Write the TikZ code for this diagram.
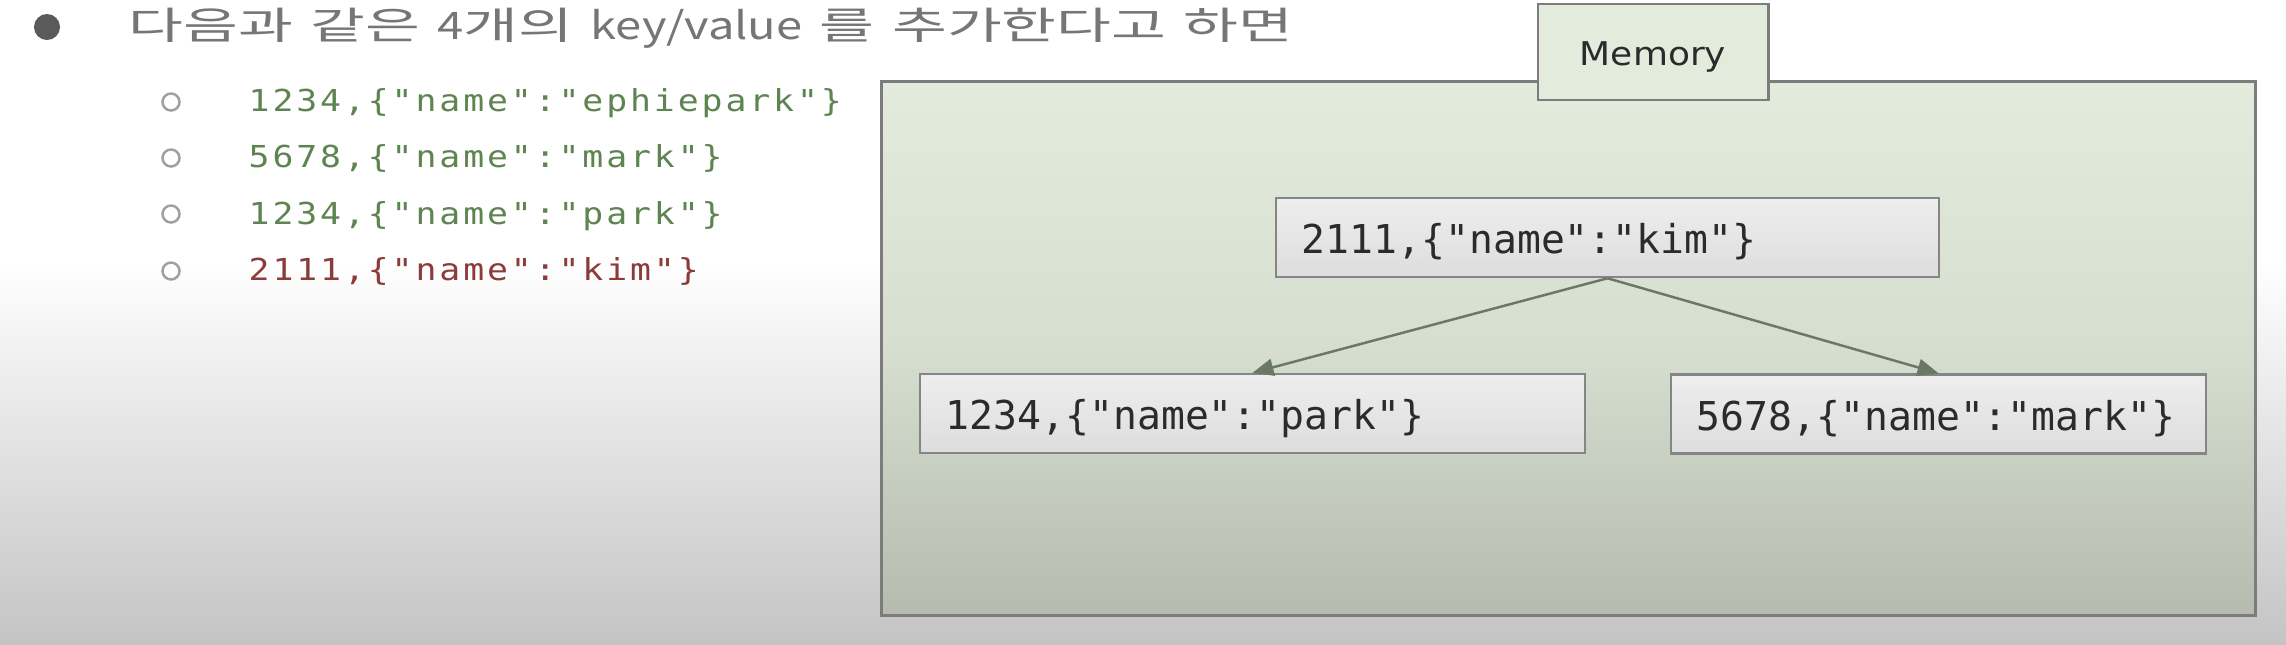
\documentclass[tikz,border=0pt]{standalone}
\usepackage{fontspec}
\usepackage{tikz}
\usepackage{xcolor}
\usetikzlibrary{arrows.meta}

\newfontfamily\kofont[FakeStretch=1.57,WordSpace=1.3]{Noto Sans CJK KR}
\newfontfamily\kolat[FakeStretch=1.24]{Noto Sans CJK KR}
\newfontfamily\listfont[FakeStretch=1.15,LetterSpace=9.6,Ligatures=TeXOff]{DejaVu Sans Mono}
\newfontfamily\boxfont[Ligatures=TeXOff]{DejaVu Sans Mono}
\newfontfamily\tabfont[FakeStretch=1.1]{DejaVu Sans}

\definecolor{pagegray}{HTML}{C4C4C4}
\definecolor{memtop}{HTML}{E3EBDC}
\definecolor{memmid}{HTML}{D6DED0}
\definecolor{membot}{HTML}{B5BCAF}
\definecolor{frame}{HTML}{7C7C7C}
\definecolor{boxline}{HTML}{858585}
\definecolor{boxtop}{HTML}{EEEEEE}
\definecolor{boxbot}{HTML}{DDDDDD}
\definecolor{boxtext}{HTML}{2B2B2B}
\definecolor{linkcol}{HTML}{6A7866}
\definecolor{headgray}{HTML}{767676}
\definecolor{bulletgray}{HTML}{5A5A5A}
\definecolor{hollowgray}{HTML}{A0A0A0}
\definecolor{listgreen}{HTML}{5E8452}
\definecolor{listred}{HTML}{8C3B3B}

\begin{document}
\begin{tikzpicture}[x=0.01cm, y=-0.01cm,
    entry/.style={draw=boxline, line width=0.7pt, top color=boxtop, bottom color=boxbot,
      minimum height=0.79cm, inner xsep=0.26cm, inner ysep=0pt, align=left,
      text height=0.32cm, text depth=0pt,
      font=\boxfont\fontsize{11.3}{13}\selectfont, text=boxtext},
    item/.style={anchor=base west, inner sep=0pt, font=\listfont\fontsize{8.6}{10}\selectfont},
    hollow/.style={circle, draw=hollowgray, line width=0.7pt, inner sep=0pt, minimum size=0.17cm},
    link/.style={draw=linkcol, line width=0.7pt, -{Triangle[length=0.21cm, width=0.17cm]}}]

  % page
  \fill[white] (0,0) rectangle (2286,644);
  \shade[top color=white, bottom color=pagegray] (0,260) rectangle (2286,644);
  \useasboundingbox (0,0) rectangle (2286,644);

  % heading and list
  \node[circle, fill=bulletgray, inner sep=0pt, minimum size=0.26cm] (bullet) at (47,27) {};
  \node[anchor=west, inner sep=0pt, font=\kofont\fontsize{10.8}{13}\selectfont, text=headgray] (heading) at (128,28)
    {다음과 같은 {\kolat 4}개의 {\kolat key/value} 를 추가한다고 하면};

  \node[hollow] (dot1) at (171,102) {};
  \node[hollow] (dot2) at (171,158) {};
  \node[hollow] (dot3) at (171,214) {};
  \node[hollow] (dot4) at (171,271) {};
  \node[item, text=listgreen] (item1) at (248,111) {1234,\{"name":"ephiepark"\}};
  \node[item, text=listgreen] (item2) at (248,167) {5678,\{"name":"mark"\}};
  \node[item, text=listgreen] (item3) at (248,224) {1234,\{"name":"park"\}};
  \node[item, text=listred] (item4) at (248,280) {2111,\{"name":"kim"\}};

  % memory
  \node[draw=frame, line width=0.8pt, top color=memtop, bottom color=membot, middle color=memmid,
    minimum width=13.73cm, minimum height=5.33cm, inner sep=0pt] (memory) at (1568.5,348.5) {};
  \node[draw=frame, line width=0.8pt, fill=memtop, minimum width=2.3cm, minimum height=0.96cm,
    text height=0.27cm, text depth=0pt, font=\tabfont\fontsize{9.3}{11}\selectfont, text=boxtext] (tab) at (1653,52) {Memory};

  \node[entry, text width=6.11cm] (kim) at (1607.5,237.5) {2111,\{"name":"kim"\}};
  \node[entry, text width=6.13cm] (park) at (1252.5,413.5) {1234,\{"name":"park"\}};
  \node[entry, text width=4.83cm] (mark) at (1938.5,414) {5678,\{"name":"mark"\}};

  \draw[link] (kim.south) -- (park.north);
  \draw[link] (kim.south) -- (mark.north);
\end{tikzpicture}
\end{document}
